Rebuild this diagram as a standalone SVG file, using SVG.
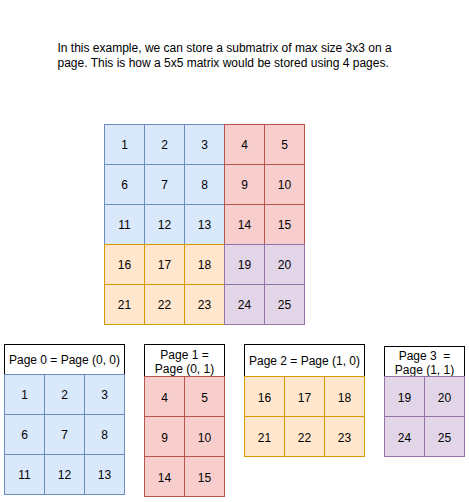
<svg xmlns="http://www.w3.org/2000/svg" width="469" height="502" viewBox="0 0 469 502">
<style>
text{font-family:"Liberation Sans",Arial,sans-serif;font-size:12px;fill:#000;}
.c{text-anchor:middle;}
.b rect{fill:#dae8fc;stroke:#6c8ebf;stroke-width:1;}
.r rect{fill:#f8cecc;stroke:#b85450;stroke-width:1;}
.o rect{fill:#ffe6cc;stroke:#d79b00;stroke-width:1;}
.p rect{fill:#e1d5e7;stroke:#9673a6;stroke-width:1;}
.h{fill:#fff;stroke:#000;stroke-width:1;}
</style>
<rect width="469" height="502" fill="#fff"/>
<g transform="translate(0.5,0.5)">
<g id="caption">
<text x="57" y="51">In this example, we can store a submatrix of max size 3x3 on a</text>
<text x="57" y="66">page. This is how a 5x5 matrix would be stored using 4 pages.</text>
</g>
<g id="matrix">
<g class="b">
<rect x="104" y="124" width="40" height="40"/><rect x="144" y="124" width="40" height="40"/><rect x="184" y="124" width="40" height="40"/>
<rect x="104" y="164" width="40" height="40"/><rect x="144" y="164" width="40" height="40"/><rect x="184" y="164" width="40" height="40"/>
<rect x="104" y="204" width="40" height="40"/><rect x="144" y="204" width="40" height="40"/><rect x="184" y="204" width="40" height="40"/>
</g>
<g class="r">
<rect x="224" y="124" width="40" height="40"/><rect x="264" y="124" width="40" height="40"/>
<rect x="224" y="164" width="40" height="40"/><rect x="264" y="164" width="40" height="40"/>
<rect x="224" y="204" width="40" height="40"/><rect x="264" y="204" width="40" height="40"/>
</g>
<g class="o">
<rect x="104" y="244" width="40" height="40"/><rect x="144" y="244" width="40" height="40"/><rect x="184" y="244" width="40" height="40"/>
<rect x="104" y="284" width="40" height="40"/><rect x="144" y="284" width="40" height="40"/><rect x="184" y="284" width="40" height="40"/>
</g>
<g class="p">
<rect x="224" y="244" width="40" height="40"/><rect x="264" y="244" width="40" height="40"/>
<rect x="224" y="284" width="40" height="40"/><rect x="264" y="284" width="40" height="40"/>
</g>
<g class="c">
<text x="124" y="148">1</text><text x="164" y="148">2</text><text x="204" y="148">3</text><text x="244" y="148">4</text><text x="284" y="148">5</text>
<text x="124" y="188">6</text><text x="164" y="188">7</text><text x="204" y="188">8</text><text x="244" y="188">9</text><text x="284" y="188">10</text>
<text x="124" y="228">11</text><text x="164" y="228">12</text><text x="204" y="228">13</text><text x="244" y="228">14</text><text x="284" y="228">15</text>
<text x="124" y="268">16</text><text x="164" y="268">17</text><text x="204" y="268">18</text><text x="244" y="268">19</text><text x="284" y="268">20</text>
<text x="124" y="308">21</text><text x="164" y="308">22</text><text x="204" y="308">23</text><text x="244" y="308">24</text><text x="284" y="308">25</text>
</g>
</g>
<g id="page0">
<rect class="h" x="4" y="344" width="120" height="30"/>
<text class="c" x="64" y="363">Page 0 = Page (0, 0)</text>
<g class="b">
<rect x="4" y="374" width="40" height="40"/><rect x="44" y="374" width="40" height="40"/><rect x="84" y="374" width="40" height="40"/>
<rect x="4" y="414" width="40" height="40"/><rect x="44" y="414" width="40" height="40"/><rect x="84" y="414" width="40" height="40"/>
<rect x="4" y="454" width="40" height="40"/><rect x="44" y="454" width="40" height="40"/><rect x="84" y="454" width="40" height="40"/>
</g>
<g class="c">
<text x="24" y="398">1</text><text x="64" y="398">2</text><text x="104" y="398">3</text>
<text x="24" y="438">6</text><text x="64" y="438">7</text><text x="104" y="438">8</text>
<text x="24" y="478">11</text><text x="64" y="478">12</text><text x="104" y="478">13</text>
</g>
</g>
<g id="page1">
<rect class="h" x="144" y="344" width="80" height="32"/>
<text class="c" x="184" y="358">Page 1 =</text>
<text class="c" x="184" y="372">Page (0, 1)</text>
<g class="r">
<rect x="144" y="376" width="40" height="40"/><rect x="184" y="376" width="40" height="40"/>
<rect x="144" y="416" width="40" height="40"/><rect x="184" y="416" width="40" height="40"/>
<rect x="144" y="456" width="40" height="40"/><rect x="184" y="456" width="40" height="40"/>
</g>
<g class="c">
<text x="164" y="401">4</text><text x="204" y="401">5</text>
<text x="164" y="441">9</text><text x="204" y="441">10</text>
<text x="164" y="481">14</text><text x="204" y="481">15</text>
</g>
</g>
<g id="page2">
<rect class="h" x="244" y="344" width="120" height="32"/>
<text class="c" x="304" y="364">Page 2 = Page (1, 0)</text>
<g class="o">
<rect x="244" y="376" width="40" height="40"/><rect x="284" y="376" width="40" height="40"/><rect x="324" y="376" width="40" height="40"/>
<rect x="244" y="416" width="40" height="40"/><rect x="284" y="416" width="40" height="40"/><rect x="324" y="416" width="40" height="40"/>
</g>
<g class="c">
<text x="264" y="401">16</text><text x="304" y="401">17</text><text x="344" y="401">18</text>
<text x="264" y="441">21</text><text x="304" y="441">22</text><text x="344" y="441">23</text>
</g>
</g>
<g id="page3">
<rect class="h" x="384" y="346" width="80" height="30"/>
<text class="c" x="424" y="359" xml:space="preserve">Page 3  =</text>
<text class="c" x="424" y="373">Page (1, 1)</text>
<g class="p">
<rect x="384" y="376" width="40" height="40"/><rect x="424" y="376" width="40" height="40"/>
<rect x="384" y="416" width="40" height="40"/><rect x="424" y="416" width="40" height="40"/>
</g>
<g class="c">
<text x="404" y="401">19</text><text x="444" y="401">20</text>
<text x="404" y="441">24</text><text x="444" y="441">25</text>
</g>
</g>
<g id="connectors"/>
</g>
</svg>
